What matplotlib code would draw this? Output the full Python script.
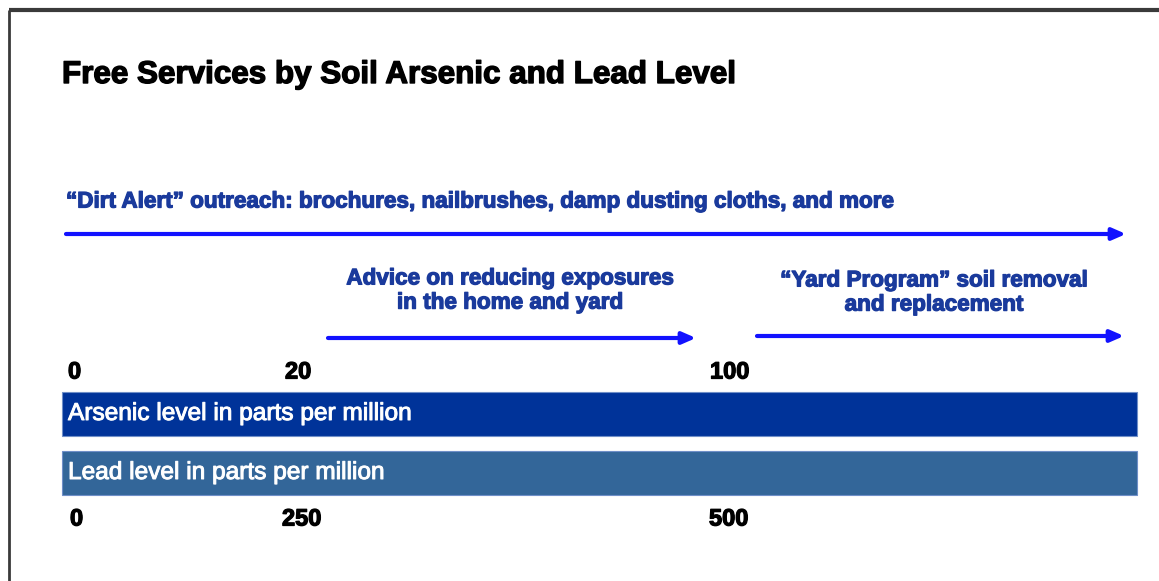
import matplotlib
matplotlib.use("Agg")
import matplotlib.pyplot as plt
from matplotlib.patches import Rectangle
import matplotlib.patheffects as pe

plt.rcParams['font.family'] = ['Liberation Sans', 'DejaVu Sans']

# ---- data ----
title = "Free Services by Soil Arsenic and Lead Level"
arsenic_ticks = ["0", "20", "100"]
lead_ticks = ["0", "250", "500"]
bar_labels = ["Arsenic level in parts per million", "Lead level in parts per million"]
services = [
    "\u201cDirt Alert\u201d outreach: brochures, nailbrushes, damp dusting cloths, and more",
    "Advice on reducing exposures\nin the home and yard",
    "\u201cYard Program\u201d soil removal\nand replacement",
]
# service ranges as tick index (start, end); None = open-ended
service_ranges = [(0, None), (1, 2), (2, None)]

# ---- layout (pixel coordinates on a 1159x581 canvas) ----
W, H = 1159, 581
fig = plt.figure(figsize=(W / 100, H / 100), dpi=100)
ax = fig.add_axes([0, 0, 1, 1])
ax.set_xlim(0, W)
ax.set_ylim(H, 0)
ax.axis('off')

def heavy(color, w=0.9):
    return [pe.withStroke(linewidth=w, foreground=color)]

# frame (top and left)
ax.plot([9, W], [10, 10], color='#3a3a3a', lw=3, solid_capstyle='butt')
ax.plot([9, 9], [10, H], color='#3a3a3a', lw=2, solid_capstyle='butt')

ax.text(62, 75, title, fontsize=22.6, fontweight='bold', color='black',
        va='center', ha='left', path_effects=heavy('black', 1.0))

tick_x_top = [68, 285, 710]
tick_x_bot = [70, 282, 709]
range_x_start = [66, 328, 757]
range_x_end = [1126, 696, 1124]
arrow_y = [234, 338, 336]
text_color = '#1a3a9c'
arrow_color = '#1212ff'

# service labels
ax.text(66, 202, services[0], fontsize=16.2, fontweight='bold', color=text_color,
        ha='left', va='center', path_effects=heavy(text_color))
ax.text(510, 291, services[1], fontsize=16.2, fontweight='bold', color=text_color,
        ha='center', va='center', linespacing=1.2, path_effects=heavy(text_color))
ax.text(934, 293, services[2], fontsize=16.2, fontweight='bold', color=text_color,
        ha='center', va='center', linespacing=1.2, path_effects=heavy(text_color))

for i, (s, e) in enumerate(service_ranges):
    ax.annotate('', xy=(range_x_end[i], arrow_y[i]), xytext=(range_x_start[i], arrow_y[i]),
                arrowprops=dict(arrowstyle='-|>,head_length=0.8,head_width=0.35',
                                color=arrow_color, lw=3, shrinkA=0, shrinkB=0,
                                capstyle='round'))

for lbl, x in zip(arsenic_ticks, tick_x_top):
    ax.text(x, 372, lbl, fontsize=17, fontweight='bold', color='black', ha='left', va='center',
            path_effects=heavy('black'))
for lbl, x in zip(lead_ticks, tick_x_bot):
    ax.text(x, 519, lbl, fontsize=17, fontweight='bold', color='black', ha='left', va='center',
            path_effects=heavy('black'))

bar_colors = ['#003399', '#336699']
bar_y = [392, 451]
bar_h = 44
for lbl, y, c in zip(bar_labels, bar_y, bar_colors):
    ax.add_patch(Rectangle((62, y), 1137 - 62, bar_h, facecolor=c, edgecolor='#6f8fc8', lw=0.8))
    ax.text(68, y + bar_h / 2, lbl, fontsize=17.6, color='white', ha='left', va='center',
            path_effects=heavy('white', 0.7))

fig.savefig('out.png', dpi=100)
